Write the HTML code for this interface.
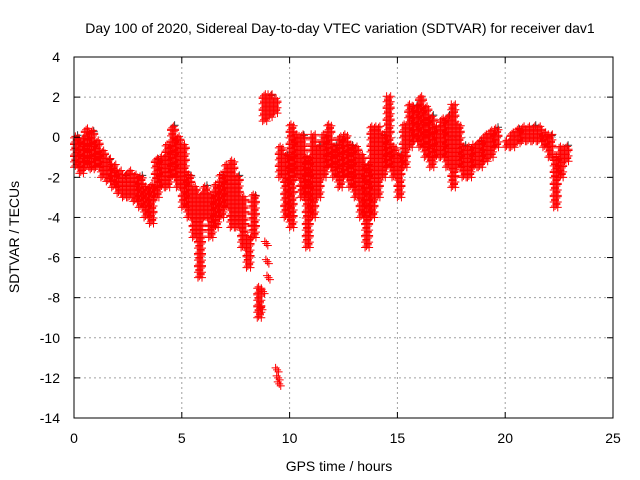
<!DOCTYPE html>
<html><head><meta charset="utf-8"><style>
body{margin:0;background:#fff;}
svg{display:block;font-family:"Liberation Sans",sans-serif;font-size:14px;}
</style></head><body>
<svg id="chart" width="640" height="480">
<text x="340" y="33" text-anchor="middle">Day 100 of 2020, Sidereal Day-to-day VTEC variation (SDTVAR) for receiver dav1</text>
<text x="339" y="471" text-anchor="middle">GPS time / hours</text>
<text transform="translate(19,237) rotate(-90)" text-anchor="middle">SDTVAR / TECUs</text>
<g id="grid"></g><g id="marks"></g><g id="axes"></g>
</svg>
<script>
const times=[0,0.25,0.5,0.75,1,1.25,1.5,1.75,2,2.25,2.5,2.75,3,3.25,3.5,3.75,4,4.25,4.5,4.75,5,5.25,5.5,5.75,6,6.25,6.5,6.75,7,7.25,7.5,7.75,8,8.25,8.5,8.75,9,9.25,9.5,9.75,10,10.25,10.5,10.75,11,11.25,11.5,11.75,12,12.25,12.5,12.75,13,13.25,13.5,13.75,14,14.25,14.5,14.75,15,15.25,15.5,15.75,16,16.25,16.5,16.75,17,17.25,17.5,17.75,18,18.25,18.5,18.75,19,19.25,19.5,20,20.25,20.5,20.75,21,21.25,21.5,21.75,22,22.25,22.5,22.75];
const lows=[-1.5,-1.8,-1.5,-1.6,-1.5,-2,-2.2,-2.5,-2.8,-3,-3,-3.2,-3.5,-4,-4.3,-3,-2.5,-2.5,-2,-2.5,-3.5,-4,-5,-7,-4,-5,-4.5,-4,-3.5,-4.5,-4.5,-5.5,-6.5,-5,-9,0.8,1,1.2,-2,-4,-4.5,-2,-3,-5.5,-4,-3,-2,-1.5,-2,-2.5,-2,-2.5,-3,-4,-5.5,-4,-3,-2,-1.5,-2,-3,-1.5,-0.5,-0.2,-0.5,-1,-1.5,-1,-1,-1.5,-2.5,-1.5,-2,-2,-1.5,-1.5,-1.2,-1,-0.5,-0.5,-0.5,-0.3,-0.2,-0.2,-0.2,-0.2,-0.5,-1,-3.5,-2,-1.2];
const highs=[0,-0.2,0.3,0.2,-0.3,-0.8,-1.2,-1.5,-1.8,-2,-1.8,-2,-2,-2.5,-2.5,-1.2,-1,-0.5,0.5,0,-0.5,-2,-2.5,-3,-2.5,-3,-2.5,-2,-1.5,-1.2,-2,-3,-5,-3,-7.5,2,2,1.8,-0.5,-1,0.5,0,0,-1,0,-0.5,0,0.5,-0.5,0,0,-0.5,-0.5,-1,-1.5,0.5,0.5,0,2,-0.5,-1,0.5,1.5,1.5,2,1.5,1,0.5,0.8,1,1.5,0.5,-0.5,-0.5,-0.5,-0.3,0,0.2,0.4,-0.2,0.2,0.3,0.5,0.4,0.5,0.4,0.2,0,-1,-0.5,-0.5];
const extraTimes=[8.85,8.9,8.95,9.35,9.4,9.45,8.6,8.7];
const extraValues=[-5.3,-6.2,-7,-11.6,-12,-12.3,-8.5,-7.7];
const xTicks=[0,5,10,15,20,25];
const yTicks=[4,2,0,-2,-4,-6,-8,-10,-12,-14];
const L=74,R=613,T=57,B=418;
const xS=v=>L+(v-0)/25*(R-L);
const yS=v=>T+(4-v)/18*(B-T);
const ns="http://www.w3.org/2000/svg";
function mk(tag,attrs,parent){const e=document.createElementNS(ns,tag);for(const k in attrs)e.setAttribute(k,attrs[k]);parent.appendChild(e);return e;}
const grid=document.getElementById('grid'),axes=document.getElementById('axes'),marks=document.getElementById('marks');
xTicks.forEach(t=>{
 const x=xS(t);
 if(t>0&&t<25){const g=mk('line',{x1:x,x2:x,y1:T,y2:B,stroke:'#a0a0a0','stroke-dasharray':'2,3'},grid);
 
 }
 mk('line',{x1:x,x2:x,y1:B,y2:B-6,stroke:'#000'},axes);
 mk('line',{x1:x,x2:x,y1:T,y2:T+6,stroke:'#000'},axes);
 const tx=mk('text',{x:x,y:B+25,'text-anchor':'middle'},axes);tx.textContent=t;
 
 
});
yTicks.forEach(t=>{
 const y=yS(t);
 if(t<4&&t>-14){const g=mk('line',{x1:L,x2:R,y1:y,y2:y,stroke:'#a0a0a0','stroke-dasharray':'2,3'},grid);
 
 }
 mk('line',{x1:L,x2:L+6,y1:y,y2:y,stroke:'#000'},axes);
 mk('line',{x1:R,x2:R-6,y1:y,y2:y,stroke:'#000'},axes);
 const tx=mk('text',{x:L-14,y:y+5,'text-anchor':'end'},axes);tx.textContent=t;
 
 
});
const fr=mk('rect',{x:L,y:T,width:R-L,height:B-T,fill:'none',stroke:'#000'},axes);


let d='',dk='';
function plus(x,y){return `M${x-4},${y}h8M${x},${y-4}v8`;}
times.forEach((t,i)=>{
 const lo=Math.min(lows[i],highs[i]),hi=Math.max(lows[i],highs[i]);
 let k=0;
 for(let v=lo;v<=hi+0.001;v+=0.2){
  for(let j=0;j<4;j++){
   const xo=t+j*0.0625, vy=v+((j+k)%3)*0.07;
   d+=plus(xS(xo),yS(vy));
  }
  k++;
 }
 if(i%3===0) dk+=plus(xS(t+0.12)+1,yS(hi)-2);
});
extraTimes.forEach((t,i)=>{for(let j=0;j<3;j++)d+=plus(xS(t)+j*1.5,yS(extraValues[i])+j*2-2);});
const pb=mk('path',{d:dk,stroke:'#333',fill:'none','stroke-width':1},marks);


const pr=mk('path',{d:d,stroke:'#ff0000',fill:'none','stroke-width':1},marks);


</script>
</body></html>
